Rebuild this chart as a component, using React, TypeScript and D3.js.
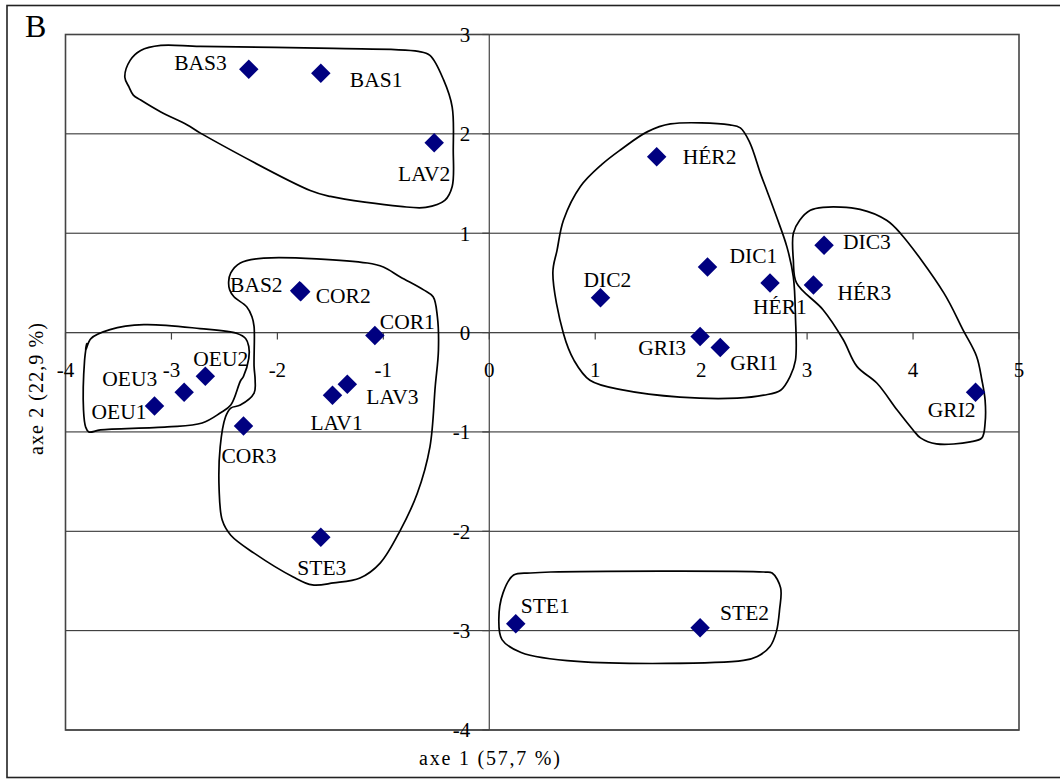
import React from "react";
import * as d3 from "d3";

// ---- data (PCA scores, axe 1 / axe 2) ----
const sampleNames = [
  "BAS3", "BAS1", "LAV2", "BAS2", "COR2", "COR1", "LAV3", "LAV1", "OEU2", "OEU3", "OEU1", "COR3", "STE3",
  "STE1", "STE2", "HÉR2", "DIC1", "DIC2", "HÉR1", "HÉR3", "DIC3", "GRI3", "GRI1", "GRI2",
];
const axis1Values = [
  -2.27, -1.59, -0.52, -1.79, -1.78, -1.08, -1.34, -1.48, -2.68, -2.88, -3.16, -2.32, -1.59,
  0.25, 1.99, 1.58, 2.06, 1.05, 2.65, 3.06, 3.16, 1.99, 2.18, 4.59,
];
const axis2Values = [
  2.65, 2.61, 1.91, 0.42, 0.41, -0.03, -0.52, -0.63, -0.44, -0.6, -0.74, -0.94, -2.06,
  -2.93, -2.97, 1.77, 0.66, 0.35, 0.5, 0.48, 0.88, -0.04, -0.15, -0.6,
];

const xTicks = [-4, -3, -2, -1, 0, 1, 2, 3, 4, 5];
const yTicks = [-4, -3, -2, -1, 0, 1, 2, 3];
const xTitle = "axe 1 (57,7 %)";
const yTitle = "axe 2 (22,9 %)";
const panelLetter = "B";

// hand-drawn group outlines, in axis units
const groupBas = [
  [-3.44, 2.57], [-3.39, 2.74], [-3.29, 2.84], [-3.1, 2.89], [-2.73, 2.88], [-1.47, 2.86], [-0.67, 2.83],
  [-0.56, 2.79], [-0.43, 2.54], [-0.35, 2.27], [-0.34, 1.84], [-0.35, 1.47], [-0.42, 1.33], [-0.6, 1.26],
  [-0.84, 1.27], [-1.5, 1.37], [-1.69, 1.43], [-2.73, 2.01], [-2.85, 2.09], [-3.1, 2.22], [-3.29, 2.34],
  [-3.36, 2.39], [-3.4, 2.47],
];
const groupCor = [
  [-2.44, 0.6], [-2.35, 0.7], [-2.13, 0.75], [-1.15, 0.7], [-1.0, 0.66], [-0.84, 0.56], [-0.62, 0.43],
  [-0.53, 0.36], [-0.49, 0.16], [-0.48, -0.18], [-0.51, -0.54], [-0.56, -1.15], [-0.68, -1.62],
  [-0.84, -1.99], [-1.03, -2.32], [-1.22, -2.47], [-1.47, -2.52], [-1.67, -2.54], [-1.85, -2.46],
  [-2.22, -2.22], [-2.44, -2.04], [-2.52, -1.89], [-2.55, -1.58], [-2.54, -1.15], [-2.49, -0.85],
  [-2.44, -0.76], [-2.35, -0.73], [-2.22, -0.61], [-2.21, -0.48], [-2.22, -0.34], [-2.22, 0.06],
  [-2.24, 0.16], [-2.29, 0.26], [-2.41, 0.36], [-2.45, 0.43], [-2.46, 0.51],
];
const groupOeu = [
  [-3.81, -0.18], [-3.76, -0.06], [-3.58, 0.03], [-3.26, 0.08], [-2.73, 0.04], [-2.38, -0.01],
  [-2.3, -0.06], [-2.27, -0.14], [-2.27, -0.26], [-2.32, -0.44], [-2.35, -0.49], [-2.44, -0.73],
  [-2.54, -0.81], [-2.71, -0.91], [-3.04, -0.95], [-3.67, -0.98], [-3.78, -1.0], [-3.81, -0.95],
  [-3.83, -0.78], [-3.82, -0.28], [-3.8, -0.11],
];
const groupDic = [
  [1.71, 2.1], [2.27, 2.09], [2.37, 2.06], [2.46, 1.91], [2.56, 1.6], [2.62, 1.43], [2.71, 1.17],
  [2.81, 0.86], [2.87, 0.56], [2.89, 0.16], [2.89, -0.28], [2.84, -0.44], [2.75, -0.58], [2.59, -0.63],
  [2.34, -0.66], [1.8, -0.65], [1.27, -0.58], [0.95, -0.48], [0.8, -0.28], [0.7, -0.01], [0.6, 0.6],
  [0.64, 0.83], [0.7, 1.13], [0.86, 1.47], [1.06, 1.69], [1.24, 1.84], [1.49, 2.02],
];
const groupGri = [
  [3.15, 1.26], [3.5, 1.24], [3.75, 1.13], [3.88, 1.0], [4.29, 0.4], [4.47, 0.03], [4.6, -0.24],
  [4.65, -0.48], [4.68, -0.68], [4.68, -0.91], [4.65, -1.06], [4.54, -1.1], [4.22, -1.12], [4.07, -1.06],
  [4.0, -0.98], [3.85, -0.78], [3.66, -0.51], [3.47, -0.34], [3.34, -0.07], [3.15, 0.23], [2.9, 0.5],
  [2.87, 0.73], [2.87, 1.0], [2.93, 1.13], [3.03, 1.23],
];
const groupSte = [
  [0.39, -2.42], [0.23, -2.44], [0.13, -2.62], [0.09, -2.89], [0.12, -3.09], [0.3, -3.22],
  [0.83, -3.31], [2.4, -3.3], [2.53, -3.26], [2.65, -3.16], [2.71, -3.01], [2.74, -2.79], [2.75, -2.57],
  [2.67, -2.42], [2.59, -2.41], [0.58, -2.41],
];
const groupOutlines = [groupBas, groupCor, groupOeu, groupDic, groupGri, groupSte];

// label placement (pixel offsets from each point)
const labelAnchor = [
  "end", "start", "end", "end", "start", "start", "start", "start", "start", "end", "end", "start", "middle",
  "start", "start", "start", "start", "start", "start", "start", "start", "end", "start", "end",
];
const labelDx = [-22, 29, 16, -17, 15, 5, 19, -22, -12, -27, -8, -22, 1, 5, 20, 26, 22, -17, -17, 24, 19, -14, 10, 0];
const labelDy = [1, 14, 38, 1, 11, -7, 20, 35, -10, -6, 13, 37, 38, -11, -8, 7, -4, -11, 31, 15, 4, 18, 23, 25];

const W = 1060;
const H = 782;
const FONT = "'Liberation Serif', 'Times New Roman', serif";

export default function App() {
  const x = d3.scaleLinear().domain([-4, 5]).range([65.5, 1019]);
  const y = d3.scaleLinear().domain([-4, 3]).range([730, 34.5]);
  const x0 = x(0);
  const y0 = y(0);
  const left = x(-4);
  const right = x(5);
  const top = y(3);
  const bottom = y(-4);

  const outline = d3
    .line<number[]>()
    .x((d) => x(d[0]))
    .y((d) => y(d[1]))
    .curve(d3.curveCatmullRomClosed.alpha(0.5));

  const diamond = d3.symbol().type(d3.symbolSquare).size(190)();

  return (
    <svg
      width={W}
      height={H}
      style={{ position: "absolute", left: 0, top: 0, background: "#fff" }}
      fontFamily={FONT}
    >
      <rect x={0} y={0} width={W} height={H} fill="#fff" />
      {/* outer frame */}
      <rect x={7} y={5.5} width={W + 10} height={772} fill="none" stroke="#222" strokeWidth={1.6} />
      <text x={25} y={37} fontSize={32} fill="#000">
        {panelLetter}
      </text>

      {/* gridlines */}
      {yTicks.map((t) => (
        <line key={"g" + t} x1={left} x2={right} y1={y(t)} y2={y(t)} stroke="#222" strokeWidth={1} />
      ))}
      {/* plot border */}
      <rect x={left} y={top} width={right - left} height={bottom - top} fill="none" stroke="#444" strokeWidth={1.6} />

      {/* axes */}
      <line x1={x0} x2={x0} y1={top} y2={bottom} stroke="#444" strokeWidth={1.2} />
      <line x1={left} x2={right} y1={y0} y2={y0} stroke="#444" strokeWidth={1.2} />
      {xTicks.map((t) => (
        <g key={"xt" + t}>
          <line x1={x(t)} x2={x(t)} y1={y0} y2={y0 + 7} stroke="#444" strokeWidth={1.2} />
          <text x={x(t)} y={y0 + 44} fontSize={21} textAnchor="middle" fill="#000">
            {t}
          </text>
        </g>
      ))}
      {yTicks.map((t) => (
        <g key={"yt" + t}>
          <line x1={x0 - 7} x2={x0} y1={y(t)} y2={y(t)} stroke="#444" strokeWidth={1.2} />
          <text x={x0 - 19} y={y(t)} dy="0.35em" fontSize={21} textAnchor="end" fill="#000">
            {t}
          </text>
        </g>
      ))}

      {/* group outlines */}
      {groupOutlines.map((g, i) => (
        <path key={"o" + i} d={outline(g) || ""} fill="none" stroke="#000" strokeWidth={1.7} />
      ))}

      {/* points */}
      {sampleNames.map((n, i) => (
        <path
          key={"p" + n}
          d={diamond || ""}
          transform={`translate(${x(axis1Values[i])},${y(axis2Values[i])}) rotate(45)`}
          fill="#000080"
        />
      ))}
      {/* labels */}
      {sampleNames.map((n, i) => (
        <text
          key={"l" + n}
          x={x(axis1Values[i]) + labelDx[i]}
          y={y(axis2Values[i]) + labelDy[i]}
          fontSize={21.5}
          textAnchor={labelAnchor[i] as any}
          fill="#000"
        >
          {n}
        </text>
      ))}

      {/* axis titles */}
      <text x={489.5} y={765} fontSize={20} textAnchor="middle" textLength={141} lengthAdjust="spacing" fill="#000">
        {xTitle}
      </text>
      <text
        transform="translate(42.5,389) rotate(-90)"
        fontSize={20}
        textAnchor="middle"
        textLength={132}
        lengthAdjust="spacing"
        fill="#000"
      >
        {yTitle}
      </text>
    </svg>
  );
}
